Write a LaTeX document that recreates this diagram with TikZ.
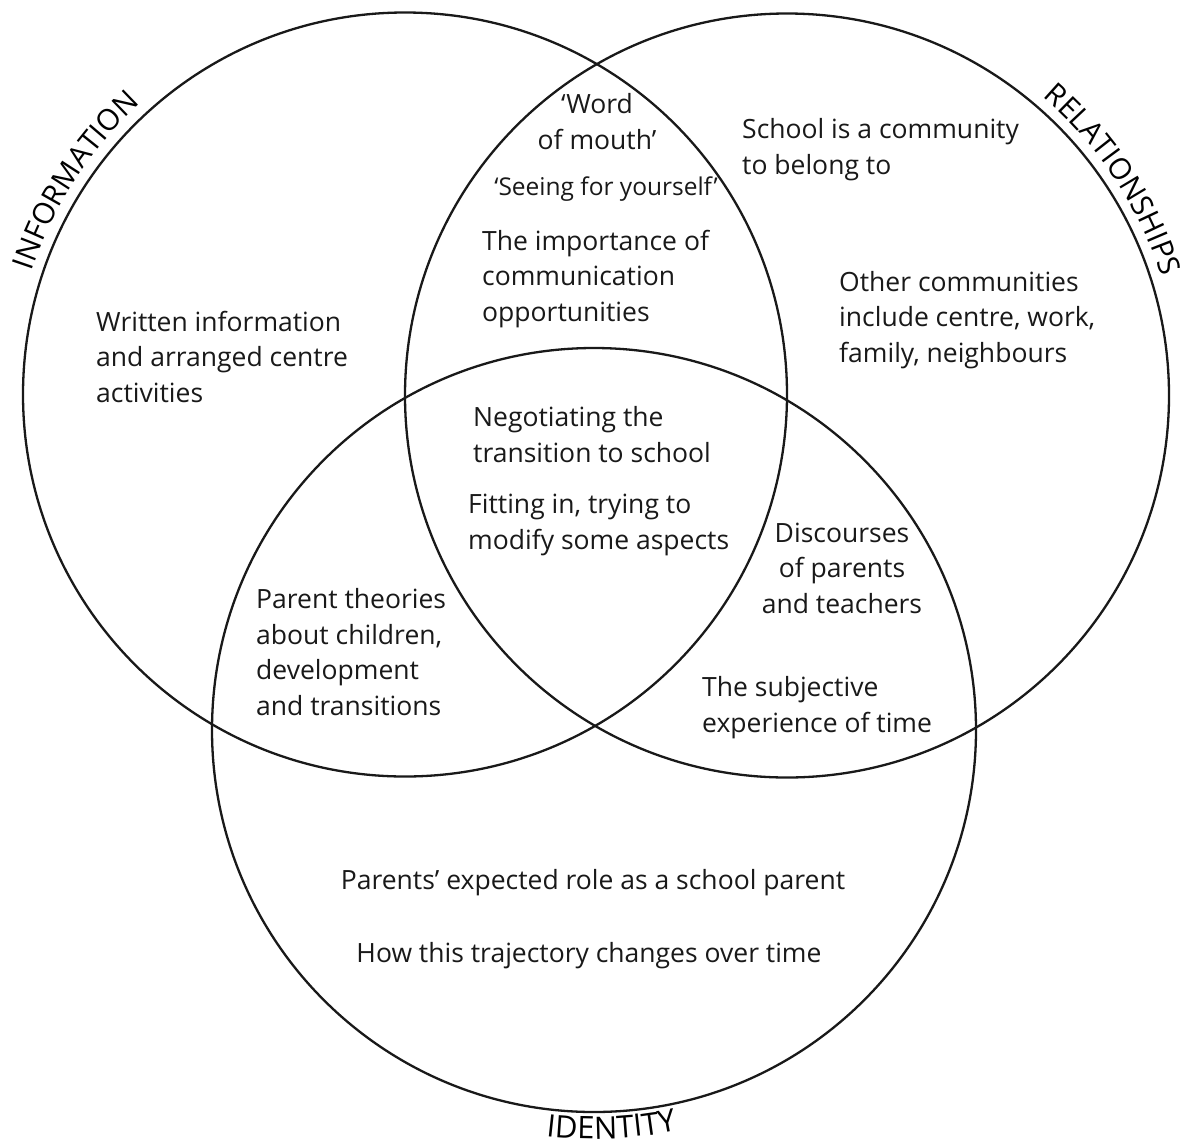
\documentclass[tikz,border=0pt]{standalone}
\usepackage{fontspec}
\setmainfont{Open Sans}
\usetikzlibrary{decorations.text}

\newcommand{\vennbodyfont}{\fontsize{26.5}{35.7}\selectfont}
\newcommand{\vennsmallfont}{\fontsize{24.5}{30}\selectfont}
\newcommand{\vennlabelfont}{\fontsize{29.5}{34}\selectfont}
\newcommand{\vennbiglabelfont}{\fontsize{31}{36}\selectfont}

\tikzset{
  venn/.style={circle, draw=black!90, line width=2.3pt, minimum size=764pt, inner sep=0pt},
  % multi-line nodes are anchored on the baseline of their last line
  bodytext/.style={font=\vennbodyfont, text=black!90, inner sep=0pt, align=left, anchor=base west},
  ctrtext/.style={font=\vennbodyfont, text=black!90, inner sep=0pt, align=center, anchor=base},
  smalltext/.style={font=\vennsmallfont, text=black!90, inner sep=0pt, anchor=base},
}

\begin{document}
\begin{tikzpicture}[x=1pt, y=1pt]
  \useasboundingbox (0,0) rectangle (1192,-1144);
  \fill[white] (0,0) rectangle (1192,-1144);

  % the three sets
  \node[venn] (info) at (405,-394.5) {};
  \node[venn] (rel)  at (787,-395.5) {};
  \node[venn] (iden) at (594,-730) {};

  % set names set along the outside of each circle
  \path[decorate, decoration={text along path, text align=center,
        text={|\vennlabelfont|INFORMATION}}]
    (info.center) ++(177:393) arc[start angle=177, end angle=117, radius=393];
  \path[decorate, decoration={text along path, text align=center,
        text={|\vennlabelfont|RELATIONSHIPS}}]
    (rel.center) ++(63.5:393) arc[start angle=63.5, end angle=3.5, radius=393];
  \path[decorate, decoration={text along path, text align=center,
        text={|\vennbiglabelfont|IDENTITY}}]
    (iden.center) ++(252.5:409) arc[start angle=252.5, end angle=292.5, radius=409];

  % information only
  \node[bodytext] (written) at (96,-402.5) {Written information\\and arranged centre\\activities};

  % information and relationships
  \node[ctrtext] (word) at (597,-149.5) {‘Word\\of mouth’};
  \node[smalltext] (seeing) at (606,-195) {‘Seeing for yourself’};
  \node[bodytext] (commun) at (482,-321.5) {The importance of\\communication\\opportunities};

  % relationships only
  \node[bodytext] (school) at (742,-174) {School is a community\\to belong to};
  \node[bodytext] (other) at (839,-362.5) {Other communities\\include centre, work,\\family, neighbours};

  % all three
  \node[bodytext] (negot) at (473,-462) {Negotiating the\\transition to school};
  \node[bodytext] (fitting) at (468,-549) {Fitting in, trying to\\modify some aspects};

  % relationships and identity
  \node[ctrtext] (disc) at (842,-613.5) {Discourses\\of parents\\and teachers};
  \node[bodytext] (subj) at (702,-732) {The subjective\\experience of time};

  % information and identity
  \node[bodytext] (theory) at (256,-715.5) {Parent theories\\about children,\\development\\and transitions};

  % identity only
  \node[ctrtext] (role) at (593,-889) {Parents’ expected role as a school parent};
  \node[ctrtext] (traj) at (589,-962) {How this trajectory changes over time};
\end{tikzpicture}
\end{document}
